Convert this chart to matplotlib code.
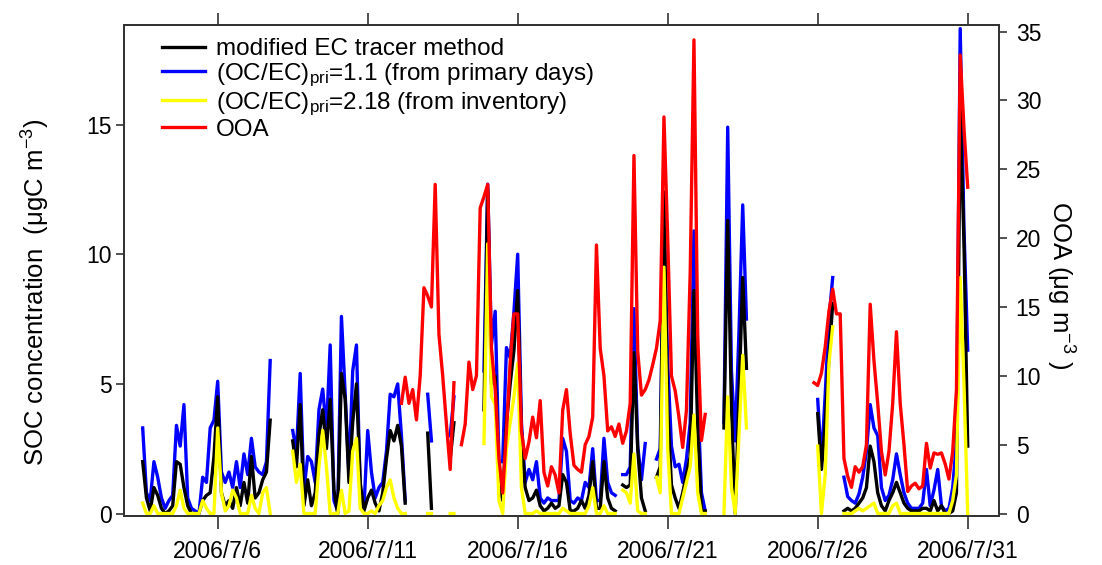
import numpy as np
import matplotlib
matplotlib.use('Agg')
import matplotlib.pyplot as plt
import matplotlib.dates as mdates
from matplotlib.ticker import FuncFormatter

plt.rcParams['font.family'] = ['Liberation Sans', 'DejaVu Sans']
plt.rcParams['mathtext.fontset'] = 'custom'
plt.rcParams['mathtext.rm'] = 'Liberation Sans'
plt.rcParams['mathtext.it'] = 'Liberation Sans:italic'
plt.rcParams['mathtext.bf'] = 'Liberation Sans:bold'

nan = np.nan

# 3-hourly samples starting 2006-07-03 12:00
start_time = '2006-07-03T12:00'
step_hours = 3

# SOC by modified EC tracer method (ugC m-3)
soc_ec_tracer = [
    2.0, 0.6, 0.1, 1.0,                            # 7/3 12h-21h
    0.7, 0.2, 0.0, 0.1, 0.3, 2.0, 1.9, 1.0,        # 7/4
    0.3, 0.0, 0.0, 0.0, 0.5, 0.7, 0.8, 2.2,        # 7/5
    4.5, 0.8, 0.3, 0.5, 0.2, 1.0, 0.3, 1.2,        # 7/6
    0.4, 2.2, 0.6, 0.8, 1.3, 1.6, 3.6, nan,        # 7/7
    nan, nan, nan, nan, 2.8, 1.8, 4.2, 0.3,        # 7/8
    1.3, 0.3, 0.8, 3.0, 4.0, 2.5, 4.4, 0.9,        # 7/9
    0.0, 5.4, 4.4, 1.2, 3.5, 5.0, 1.2, 0.1,        # 7/10
    0.6, 0.9, 0.4, 0.1, 0.8, 2.1, 3.2, 2.8,        # 7/11
    3.4, 2.6, 0.4, nan, nan, nan, nan, nan,        # 7/12
    3.1, 0.2, nan, nan, nan, nan, 2.1, 3.5,        # 7/13
    nan, nan, nan, nan, nan, nan, nan, 4.0,        # 7/14
    12.5, 5.0, 5.3, 1.2, 0.5, 3.5, 5.0, 6.3,       # 7/15
    8.6, 3.0, 1.0, 0.5, 0.6, 0.9, 0.3, 0.1,        # 7/16
    0.2, 0.4, 0.2, 0.3, 1.5, 1.2, 0.1, 0.1,        # 7/17
    0.2, 0.5, 0.2, 0.7, 2.0, 0.2, 0.2, 2.0,        # 7/18
    0.6, 0.2, 0.1, nan, 1.1, 1.0, 1.1, 6.2,        # 7/19
    2.5, 0.6, 0.1, nan, nan, 1.4, 1.8, 12.4,       # 7/20
    4.0, 1.1, 0.6, 0.2, 0.8, 1.5, 2.2, 8.6,        # 7/21
    3.3, 0.1, 0.1, nan, nan, nan, nan, 3.3,        # 7/22
    11.3, 4.0, 0.0, 4.5, 9.1, 5.6, nan, nan,       # 7/23
    nan, nan, nan, nan, nan, nan, nan, nan,        # 7/24
    nan, nan, nan, nan, nan, nan, nan, nan,        # 7/25
    3.85, 1.7, 3.5, 6.0, 8.1, nan, nan, 0.1,       # 7/26
    0.2, 0.1, 0.2, 0.4, 0.6, 1.0, 2.6, 2.0,        # 7/27
    0.8, 0.3, 0.1, 0.5, 0.8, 1.2, 0.8, 0.4,        # 7/28
    0.2, 0.1, 0.1, 0.1, 0.2, 0.2, 0.1, 0.5,        # 7/29
    0.1, 0.3, 0.0, 0.0, 0.1, 0.8, 15.5, 10.5,      # 7/30
    2.6,                                           # 7/31
]

# SOC with (OC/EC)pri = 1.1
soc_ratio_1_1 = [
    3.3, 0.8, 0.5, 2.0,
    1.4, 0.6, 0.2, 0.5, 0.7, 3.4, 2.6, 4.2,
    0.6, 0.2, 0.1, 0.0, 1.4, 1.2, 3.3, 3.6,
    5.1, 1.6, 1.2, 1.6, 1.0, 2.0, 1.0, 2.3,
    1.5, 2.9, 1.8, 1.6, 1.5, 2.0, 5.9, nan,
    nan, nan, nan, nan, 3.2, 2.4, 5.4, 0.9,
    2.2, 2.0, 1.2, 4.0, 4.8, 3.2, 6.5, 0.5,
    0.1, 7.6, 4.6, 1.5, 5.5, 6.5, 1.0, 0.2,
    3.2, 1.6, 0.6, 1.0, 1.2, 2.4, 4.6, 4.5,
    5.0, 3.0, 0.5, nan, nan, nan, nan, nan,
    4.6, 2.8, nan, nan, nan, nan, 3.0, 4.5,
    nan, nan, nan, nan, nan, nan, nan, 5.5,
    12.7, 6.5, 7.8, 2.0, 2.0, 6.4, 6.0, 7.8,
    10.0, 3.5, 1.2, 1.7, 1.3, 2.0, 0.6, 0.4,
    0.6, 0.5, 0.5, 0.5, 2.9, 2.4, 0.5, 0.4,
    0.6, 0.5, 1.2, 1.0, 2.5, 0.5, 0.5, 2.9,
    1.2, 0.8, 0.7, nan, 1.5, 1.5, 1.8, 7.9,
    2.6, 1.3, 2.7, nan, nan, 2.1, 2.5, 11.5,
    5.8, 2.6, 1.8, 1.9, 1.2, 2.1, 3.5, 10.9,
    4.5, 0.8, 0.1, nan, nan, nan, nan, 3.5,
    14.9, 5.5, 2.8, 7.0, 11.9, 7.5, nan, nan,
    nan, nan, nan, nan, nan, nan, nan, nan,
    nan, nan, nan, nan, nan, nan, nan, nan,
    4.4, 2.0, 4.6, 7.5, 9.1, nan, nan, 1.4,
    0.65, 0.5, 0.4, 0.75, 1.4, 2.4, 4.2, 3.3,
    3.0, 1.0, 0.5, 0.7, 1.3, 2.3, 1.5, 0.8,
    0.4, 0.2, 0.2, 0.2, 0.4, 1.7, 0.3, 0.9,
    1.7, 0.3, 0.1, 0.2, 1.0, 2.8, 18.7, 11.0,
    6.3,
]

# SOC with (OC/EC)pri = 2.18
soc_ratio_2_18 = [
    0.4, 0.0, 0.0, 0.3,
    0.0, 0.0, 0.0, 0.0, 0.0, 0.3, 0.9, 0.2,
    0.0, 0.0, 0.0, 0.0, 0.5, 0.2, 0.0, 0.0,
    3.3, 0.8, 0.1, 0.3, 0.9, 0.6, 0.0, 0.0,
    0.0, 0.7, 0.2, 0.0, 0.8, 1.0, 0.0, nan,
    nan, nan, nan, nan, 2.4, 1.2, 1.9, 0.0,
    0.0, 0.0, 0.0, 1.8, 3.2, 1.8, 0.0, 0.0,
    0.0, 0.9, 0.0, 0.1, 2.4, 2.9, 0.2, 0.0,
    0.0, 0.1, 0.0, 0.3, 0.5, 1.0, 1.3, 0.6,
    0.2, 0.0, 0.0, nan, nan, nan, nan, nan,
    0.0, 0.0, nan, nan, nan, nan, 0.0, 0.0,
    nan, nan, nan, nan, nan, nan, nan, 2.7,
    10.4, 4.5, 4.2, 0.5, 0.0, 2.5, 3.5, 4.5,
    5.8, 1.0, 0.0, 0.0, 0.0, 0.1, 0.0, 0.0,
    0.0, 0.0, 0.0, 0.0, 0.2, 0.1, 0.0, 0.0,
    0.0, 0.0, 0.0, 0.3, 1.0, 0.0, 0.0, 0.3,
    0.0, 0.0, 0.0, nan, 0.9, 0.8, 0.4, 2.3,
    0.1, 0.0, 0.0, nan, nan, 1.4, 0.8, 9.5,
    2.5, 0.0, 0.0, 0.0, 0.6, 1.2, 1.8, 3.8,
    0.8, 0.0, 0.0, nan, nan, nan, nan, 0.0,
    4.5, 1.0, 0.0, 3.0, 6.1, 3.3, nan, nan,
    nan, nan, nan, nan, nan, nan, nan, nan,
    nan, nan, nan, nan, nan, nan, nan, nan,
    2.6, 0.0, 1.5, 5.8, 7.2, nan, nan, 0.0,
    0.0, 0.0, 0.1, 0.2, 0.1, 0.2, 0.3, 0.4,
    0.0, 0.0, 0.0, 0.0, 0.3, 0.4, 0.0, 0.0,
    0.0, 0.0, 0.0, 0.0, 0.0, 0.0, 0.0, 0.0,
    0.0, 0.0, 0.0, 0.0, 0.5, 1.5, 9.1, 5.0,
    0.0,
]

# OOA (ug m-3), right axis
ooa = [
    nan, nan, nan, nan,
    nan, nan, nan, nan, nan, nan, nan, nan,
    nan, nan, nan, nan, nan, nan, nan, nan,
    nan, nan, nan, nan, nan, nan, nan, nan,
    nan, nan, nan, nan, nan, nan, nan, nan,
    nan, nan, nan, nan, nan, nan, nan, nan,
    nan, nan, nan, nan, nan, nan, nan, nan,
    nan, nan, nan, nan, nan, nan, nan, nan,
    nan, nan, nan, nan, nan, nan, nan, nan,
    nan, 8.0, 9.9, 8.0, 9.0, 6.8, 10.0, 16.4,
    15.8, 15.0, 23.9, 13.0, 10.0, 6.5, 3.2, 9.5,
    nan, 5.0, 6.5, 11.0, 9.0, 10.0, 22.2, 23.0,
    23.9, 12.0, 9.0, 4.0, 1.5, 6.0, 11.0, 14.5,
    14.5, 6.0, 4.0, 5.2, 7.0, 5.5, 8.2, 3.0,
    2.0, 3.4, 2.8, 1.5, 7.5, 9.0, 5.8, 3.5,
    3.2, 3.0, 5.0, 5.6, 7.0, 19.5, 12.0, 10.0,
    6.0, 6.3, 5.6, 6.5, 5.1, 6.0, 8.0, 26.0,
    11.8, 8.6, 9.0, 9.7, 10.8, 12.0, 14.0, 28.8,
    20.0, 10.0, 8.9, 7.0, 4.8, 7.5, 17.5, 34.4,
    13.0, 5.3, 7.2, nan, nan, nan, nan, nan,
    nan, nan, nan, nan, nan, nan, nan, nan,
    nan, nan, nan, nan, nan, nan, nan, nan,
    nan, nan, nan, nan, nan, nan, nan, 9.5,
    9.3, 10.2, 12.1, 14.7, 16.3, 14.5, 14.5, 4.0,
    2.7, 1.9, 3.4, 3.0, 3.4, 5.0, 15.2, 11.1,
    8.0, 4.5, 2.8, 4.5, 8.0, 13.2, 8.0, 5.0,
    1.6, 2.0, 2.2, 1.8, 2.0, 5.1, 3.3, 4.4,
    4.3, 4.4, 3.6, 2.5, 4.5, 9.0, 33.3, 28.0,
    23.7,
]

labels = [
    'modified EC tracer method',
    r'(OC/EC)$_{\rm pri}$=1.1 (from primary days)',
    r'(OC/EC)$_{\rm pri}$=2.18 (from inventory)',
    'OOA',
]
tick_dates = ['2006-07-06', '2006-07-11', '2006-07-16',
              '2006-07-21', '2006-07-26', '2006-07-31']
left_ticks = [0, 5, 10, 15]
right_ticks = [0, 5, 10, 15, 20, 25, 30, 35]

n = len(soc_ec_tracer)
times = np.datetime64(start_time) + np.arange(n) * np.timedelta64(step_hours, 'h')

fig = plt.figure(figsize=(11.02, 5.65), dpi=100)
ax = fig.add_axes([124 / 1102, 49 / 565, 875 / 1102, 491 / 565])
ax2 = ax.twinx()

lw = 2.4
l_b, = ax.plot(times, np.array(soc_ratio_1_1, float), color='#0000ff', lw=lw, zorder=2)
l_k, = ax.plot(times, np.array(soc_ec_tracer, float), color='black', lw=lw, zorder=3)
l_y, = ax.plot(times, np.array(soc_ratio_2_18, float), color='#ffff00', lw=lw, zorder=4)
l_r, = ax2.plot(times, np.array(ooa, float), color='#ff0000', lw=lw)

t0 = mdates.date2num(np.datetime64('2006-07-06'))
t1 = mdates.date2num(np.datetime64('2006-07-31'))
ax.set_xlim(t0 - 3.123, t1 + 1.043)
ax.set_ylim(-0.096, 18.84)
ax2.set_ylim(-0.18, 35.48)

ax.set_xticks([mdates.date2num(np.datetime64(d)) for d in tick_dates])

def fmt(x, pos):
    d = mdates.num2date(x)
    return f'{d.year}/{d.month}/{d.day}'

ax.xaxis.set_major_formatter(FuncFormatter(fmt))
ax.set_yticks(left_ticks)
ax2.set_yticks(right_ticks)

spine_c = '#333333'
for a in (ax, ax2):
    for s in a.spines.values():
        s.set_color(spine_c)
        s.set_linewidth(1.3)

ax.tick_params(axis='x', which='both', direction='out', top=True, length=9,
               width=1.2, color=spine_c, labelsize=16.5, pad=8)
ax.tick_params(axis='y', direction='out', length=6, width=1.2, color=spine_c,
               labelsize=16.5, pad=3)
ax2.tick_params(axis='y', direction='out', length=6, width=1.2, color=spine_c,
                labelsize=16.5, pad=6)

ax.set_ylabel('SOC concentration  (μgC m$^{-3}$)', fontsize=18.5)
ax.yaxis.set_label_coords(-0.082, 0.456)
ax2.set_ylabel('OOA (μg m$^{-3}$ )', fontsize=18.5, rotation=270, va='bottom')
ax2.yaxis.set_label_coords(1.052, 0.470)

ax2.legend([l_k, l_b, l_y, l_r], labels, loc='upper left',
           bbox_to_anchor=(0.044, 0.973), frameon=False, fontsize=17.5,
           handlelength=1.75, handletextpad=0.45, labelspacing=0.05,
           borderpad=0, borderaxespad=0)

fig.savefig('out.png', dpi=100)
